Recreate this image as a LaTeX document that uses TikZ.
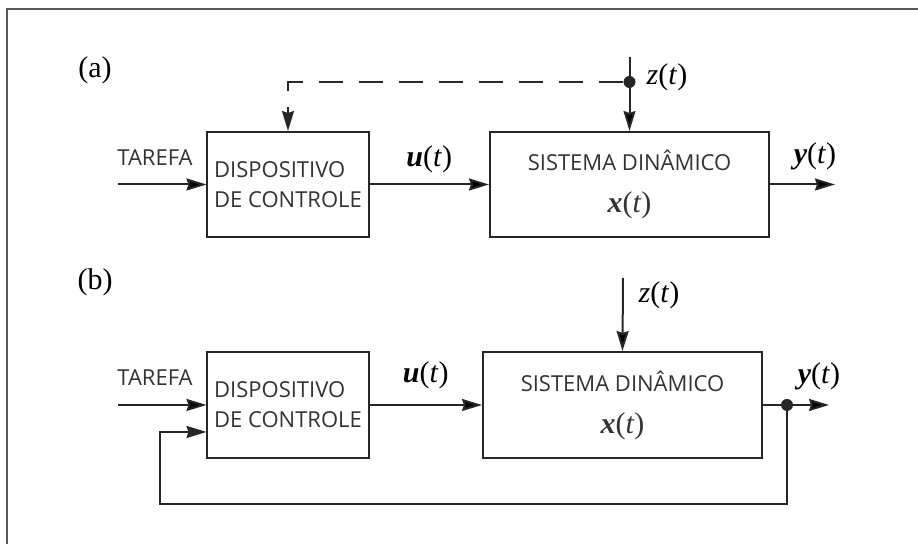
\documentclass[tikz,border=0pt]{standalone}
\usepackage{fontspec}
\setmainfont{Liberation Serif}
\newfontfamily\blocofont{Open Sans}
\usetikzlibrary{arrows.meta,calc,positioning}

\newcommand{\sinal}[1]{{\normalfont\fontsize{15}{17}\selectfont\textbf{\textit{#1}}(\textit{t})}}
\newcommand{\pert}{{\normalfont\fontsize{15}{17}\selectfont\textit{z}(\textit{t})}}

\begin{document}
\begin{tikzpicture}[x=0.5pt,y=0.5pt,
    >={Stealth[length=10pt,width=6pt,inset=1pt]},
    bloco/.style={draw=black!85,line width=1pt,align=left,minimum height=52.5pt,
                  font=\blocofont\fontsize{11}{15}\selectfont,text=black!80},
    entrada/.style={font=\blocofont\fontsize{11}{15}\selectfont,text=black!80},
    rotulo/.style={font=\fontsize{15}{17}\selectfont},
    sinal/.style={line width=1pt,draw=black!85},
    ponto/.style={circle,fill=black!85,inner sep=0pt,minimum size=6pt}]

    \useasboundingbox (0,0) rectangle (918,544);
    \draw[black!65,line width=0.7pt] (7,0) -- (7,535) -- (918,535);

    % (a) malha aberta
    \node[rotulo] (rotA) at (95,474) {(a)};
    \node[bloco,minimum width=80pt] (ctlA) at (288,359.5) {DISPOSITIVO\\DE CONTROLE};
    \node[bloco,minimum width=139.5pt,align=center] (sysA) at (629.5,359.5)
          {SISTEMA DIN\^AMICO\\[6pt]\sinal{x}};
    \node[entrada] (tarA) at (155,386) {TAREFA};
    \coordinate (inA) at (118,359.5);
    \coordinate (outA) at (835,359.5);
    \coordinate (zA) at ($(sysA.north)+(0,74)$);
    \node[ponto] (pA) at ($(sysA.north)+(0,49)$) {};
    \node[rotulo] (zlabA) at (667,467) {\pert};
    \node[rotulo] (ylabA) at (815,388) {\sinal{y}};

    \path[sinal] (inA)  edge[->] (ctlA.west)
                 (ctlA) edge[->] node[above=2pt] {\sinal{u}} (sysA)
                 (sysA) edge[->] (outA)
                 (zA)   edge[->] (sysA.north);
    \draw[sinal,dash pattern=on 12pt off 8pt,->] (pA) -| (ctlA.north);

    % (b) malha fechada
    \node[rotulo] (rotB) at (95,262) {(b)};
    \node[bloco,minimum width=80pt,minimum height=53pt] (ctlB) at (288,139) {DISPOSITIVO\\DE CONTROLE};
    \node[bloco,minimum width=139.5pt,minimum height=53pt,align=center] (sysB) at (622.5,139)
          {SISTEMA DIN\^AMICO\\[6pt]\sinal{x}};
    \node[entrada] (tarB) at (155,166) {TAREFA};
    \coordinate (inB) at (118,139);
    \coordinate (outB) at (829,139);
    \coordinate (zB) at (623,266);
    \coordinate (retB) at (160,40);
    \node[ponto] (pB) at (787,139) {};
    \node[rotulo] (zlabB) at (659,249) {\pert};
    \node[rotulo] (ylabB) at (819,168) {\sinal{y}};

    \path[sinal] (inB)  edge[->] (ctlB.west)
                 (ctlB) edge[->] node[above=4pt] {\sinal{u}} (sysB)
                 (sysB) edge     (pB)
                 (pB)   edge[->] (outB)
                 (zB)   edge[->] (sysB.north);
    \draw[sinal,->] (pB) |- (retB) |- ([yshift=-13.5pt]ctlB.west);
\end{tikzpicture}
\end{document}
